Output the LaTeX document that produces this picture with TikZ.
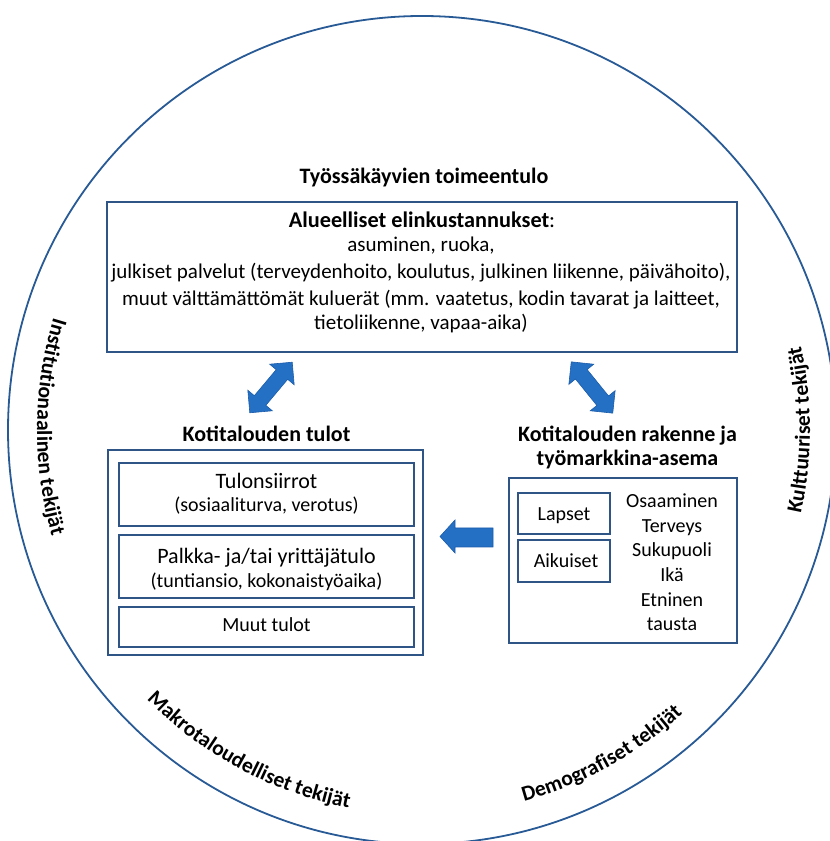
\documentclass[tikz,border=0pt]{standalone}
\usepackage{fontspec}
\setmainfont{Carlito}
\usetikzlibrary{decorations.text}
\definecolor{frame}{RGB}{47,85,135}
\definecolor{ring}{RGB}{40,90,150}
\definecolor{arrowblue}{RGB}{36,112,196}
\definecolor{arrowedge}{RGB}{28,92,170}
\newcommand\rngfont{\fontsize{21.5}{24}\selectfont\bfseries}
\begin{document}
\begin{tikzpicture}[x=1pt,y=1pt,
  box/.style={draw=frame, line width=1.6pt, inner sep=0pt, outer sep=0pt},
  ttl/.style={font=\fontsize{22}{26}\selectfont\bfseries, anchor=base, inner sep=0pt},
  hd/.style={font=\fontsize{22.3}{26}\selectfont, anchor=base, inner sep=0pt},
  bodytop/.style={font=\fontsize{21}{24}\selectfont, anchor=base, inner sep=0pt},
  big/.style={font=\fontsize{22}{26}\selectfont, anchor=base, inner sep=0pt},
  item/.style={font=\fontsize{20}{24}\selectfont, anchor=base, inner sep=0pt},
  blockarrow/.style={fill=arrowblue, draw=arrowedge, line width=0.6pt},
  ringlabel/.style={decorate, decoration={text along path, text align=center}}
]
\useasboundingbox (0,0) rectangle (830,841);
\begin{scope}
\clip (0,0) rectangle (830,841);
\draw[ring, line width=1.8pt] (422,411) circle[radius=414];
\end{scope}

% ring labels
\path[ringlabel, decoration={text={|\rngfont|Institutionaalinen tekijät}}]
  (422,411) ++(134.5:385) arc[start angle=134.5, end angle=224.5, radius=385];
\path[ringlabel, decoration={text={|\rngfont|Makrotaloudelliset tekijät}}]
  (422,411) ++(196.7:385) arc[start angle=196.7, end angle=286.7, radius=385];
\path[ringlabel, decoration={text={|\rngfont|Demografiset tekijät}}]
  (422,411) ++(254:385) arc[start angle=254, end angle=344, radius=385];
\path[ringlabel, decoration={text={|\rngfont|Kulttuuriset tekijät}}]
  (422,411) ++(-45:388) arc[start angle=-45, end angle=45, radius=388];

% top
\node[ttl] (ttop) at (424,657) {Työssäkäyvien toimeentulo};
\node[box, minimum width=630, minimum height=150] (costs) at (422,564) {};
\node[hd] (c1) at (422,613) {\textbf{Alueelliset elinkustannukset}:};
\node[bodytop] (c2) at (421,589) {asuminen, ruoka,};
\node[bodytop] (c3) at (421,562) {julkiset palvelut (terveydenhoito, koulutus, julkinen liikenne, päivähoito),};
\node[bodytop] (c4) at (421,535) {muut välttämättömät kuluerät (mm. vaatetus, kodin tavarat ja laitteet,};
\node[bodytop] (c5) at (421,511) {tietoliikenne, vapaa-aika)};

% double arrows
\fill[blockarrow, shift={(271,453.5)}, rotate=50]
  (-33,0) -- (-17,16) -- (-17,7.5) -- (17,7.5) -- (17,16) -- (33,0)
  -- (17,-16) -- (17,-7.5) -- (-17,-7.5) -- (-17,-16) -- cycle;
\fill[blockarrow, shift={(592,453.5)}, rotate=-51]
  (-33,0) -- (-17,16) -- (-17,7.5) -- (17,7.5) -- (17,16) -- (33,0)
  -- (17,-16) -- (17,-7.5) -- (-17,-7.5) -- (-17,-16) -- cycle;

% left block
\node[ttl] (tleft) at (266.5,399) {Kotitalouden tulot};
\node[box, minimum width=315, minimum height=205] (income) at (265.5,288.5) {};
\node[box, minimum width=295, minimum height=63] (transfers) at (266.5,346.5) {};
\node[box, minimum width=295, minimum height=63] (wages) at (266.5,274.5) {};
\node[box, minimum width=295, minimum height=40] (other) at (266.5,214) {};
\node[big] (tr1) at (266.5,352) {Tulonsiirrot};
\node[item] (tr2) at (266.5,329) {(sosiaaliturva, verotus)};
\node[big] (wg1) at (266.5,277) {Palkka- ja/tai yrittäjätulo};
\node[item] (wg2) at (266.5,253) {(tuntiansio, kokonaistyöaika)};
\node[item] (ot1) at (266.5,209) {Muut tulot};

% left-pointing block arrow
\fill[blockarrow] (493,313) -- (455,313) -- (455,321) -- (440,304.5)
  -- (455,288) -- (455,294) -- (493,294) -- cycle;

% right block
\node[ttl] (tright1) at (627.5,399) {Kotitalouden rakenne ja};
\node[ttl] (tright2) at (627.5,375) {työmarkkina-asema};
\node[box, minimum width=228, minimum height=165] (structure) at (623,280.5) {};
\node[box, minimum width=92, minimum height=41] (children) at (564,327.5) {};
\node[box, minimum width=92, minimum height=42] (adults) at (564,280) {};
\node[item] (ch) at (564,320) {Lapset};
\node[item] (ad) at (566,273) {Aikuiset};
\node[item] (f1) at (672,333) {Osaaminen};
\node[item] (f2) at (672,308) {Terveys};
\node[item] (f3) at (672,284) {Sukupuoli};
\node[item] (f4) at (672,259) {Ikä};
\node[item] (f5) at (672,234) {Etninen};
\node[item] (f6) at (672,210) {tausta};
\end{tikzpicture}
\end{document}
